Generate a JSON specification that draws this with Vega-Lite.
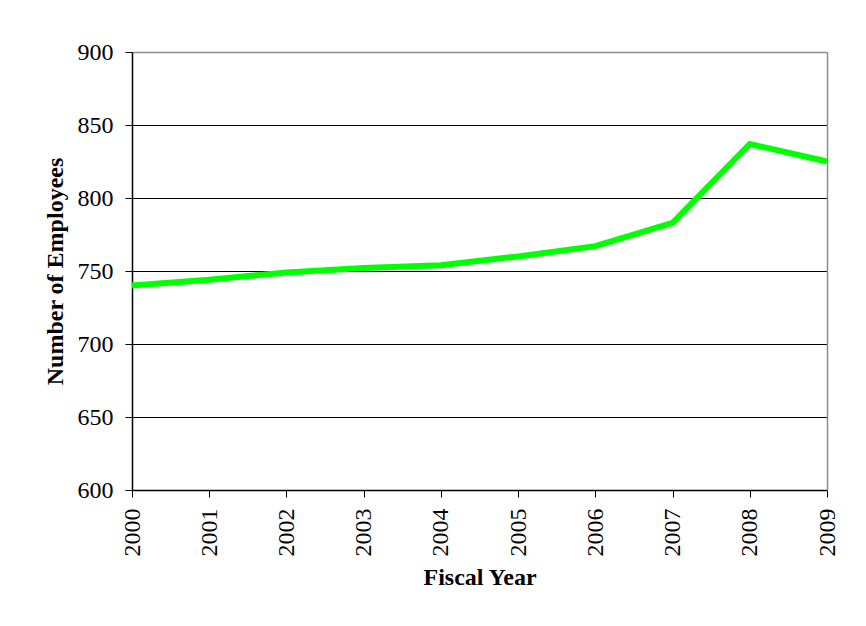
{
  "$schema": "https://vega.github.io/schema/vega-lite/v6.json",
  "autosize": {"type": "none"},
  "padding": {"left": 132, "top": 52, "right": 39, "bottom": 136},
  "width": 695,
  "height": 438,
  "background": "white",
  "config": {"view": {"stroke": null}, "font": "Liberation Serif"},
  "data": {
    "values": [
      {"year": 2000, "employees": 740},
      {"year": 2001, "employees": 744},
      {"year": 2002, "employees": 749},
      {"year": 2003, "employees": 752},
      {"year": 2004, "employees": 754},
      {"year": 2005, "employees": 760},
      {"year": 2006, "employees": 767},
      {"year": 2007, "employees": 783},
      {"year": 2008, "employees": 837},
      {"year": 2009, "employees": 825}
    ]
  },
  "layer": [
    {
      "mark": {"type": "line", "color": "#00FF00", "strokeWidth": 6},
      "encoding": {
        "x": {
          "field": "year",
          "type": "quantitative",
          "scale": {"domain": [2000, 2009], "nice": false, "zero": false},
          "axis": {
            "title": "Fiscal Year",
            "values": [2000, 2001, 2002, 2003, 2004, 2005, 2006, 2007, 2008, 2009],
            "format": "d",
            "labelAngle": 270,
            "labelFont": "Liberation Serif",
            "labelFontSize": 24,
            "labelColor": "black",
            "labelPadding": 11,
            "labelFlush": false,
            "labelOverlap": false,
            "labelBound": false,
            "tickSize": 7,
            "tickColor": "black",
            "domainColor": "black",
            "domainWidth": 1.5,
            "grid": false,
            "titleFont": "Liberation Serif",
            "titleFontSize": 24,
            "titleFontWeight": "bold",
            "titleColor": "black",
            "titlePadding": 9
          }
        },
        "y": {
          "field": "employees",
          "type": "quantitative",
          "scale": {"domain": [600, 900], "nice": false, "zero": false},
          "axis": {
            "title": "Number of Employees",
            "values": [600, 650, 700, 750, 800, 850, 900],
            "labelFont": "Liberation Serif",
            "labelFontSize": 24,
            "labelColor": "black",
            "labelPadding": 12,
            "labelOverlap": false,
            "labelFlush": false,
            "tickSize": 7,
            "tickColor": "black",
            "domainColor": "black",
            "domainWidth": 1.5,
            "grid": true,
            "gridColor": "black",
            "gridWidth": 1,
            "gridOpacity": {"condition": {"test": "datum.value >= 900", "value": 0}, "value": 1},
            "titleFont": "Liberation Serif",
            "titleFontSize": 24,
            "titleFontWeight": "bold",
            "titleColor": "black",
            "titlePadding": 10
          }
        }
      }
    },
    {
      "mark": {"type": "line", "opacity": 0},
      "encoding": {
        "x": {
          "field": "year",
          "type": "quantitative",
          "axis": {"orient": "top", "labels": false, "ticks": false, "grid": false, "title": null, "domainColor": "#8c8c8c", "domainWidth": 1.5}
        },
        "y": {
          "field": "employees",
          "type": "quantitative",
          "axis": {"orient": "right", "labels": false, "ticks": false, "grid": false, "title": null, "domainColor": "#8c8c8c", "domainWidth": 1.5}
        }
      }
    }
  ],
  "resolve": {"axis": {"x": "independent", "y": "independent"}}
}
